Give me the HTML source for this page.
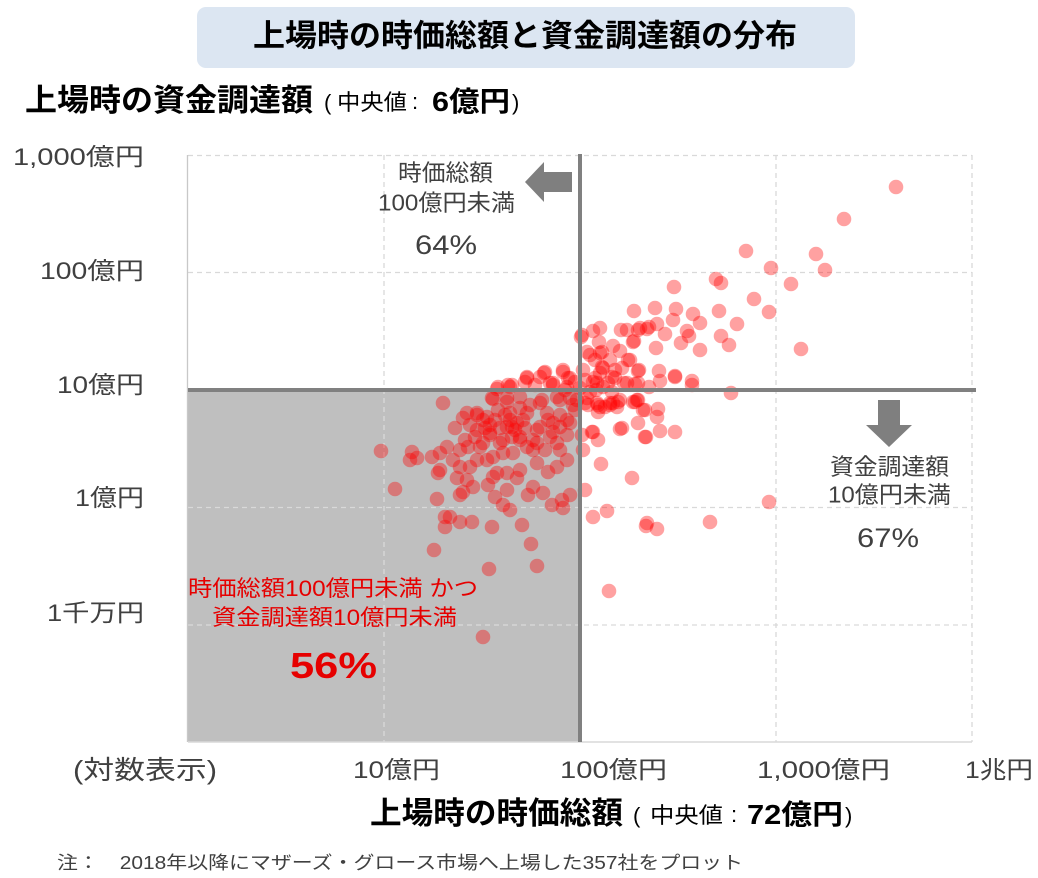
<!DOCTYPE html>
<html><head><meta charset="utf-8"><style>
html,body{margin:0;padding:0;background:#fff;}
svg{display:block;}
text{font-family:"Liberation Sans","Noto Sans CJK JP",sans-serif;}
</style></head><body>
<svg width="1038" height="878" viewBox="0 0 1038 878" xmlns="http://www.w3.org/2000/svg">
<rect x="197" y="7" width="658" height="61" rx="9" fill="#dce6f2"/>
<text x="253" y="46.5" font-size="31" font-weight="bold" fill="#000" textLength="544" lengthAdjust="spacingAndGlyphs">上場時の時価総額と資金調達額の分布</text>
<text x="25" y="111" font-size="31" font-weight="bold" fill="#000" textLength="288" lengthAdjust="spacingAndGlyphs">上場時の資金調達額</text>
<text x="324" y="110" font-size="22" fill="#000">(</text>
<text x="337" y="110" font-size="22" fill="#000" textLength="70" lengthAdjust="spacingAndGlyphs">中央値</text>
<text x="412" y="109" font-size="22" fill="#000">:</text>
<text x="432" y="111" font-size="28" font-weight="bold" fill="#000" textLength="78" lengthAdjust="spacingAndGlyphs">6億円</text>
<text x="512" y="110" font-size="22" fill="#000">)</text>
<rect x="188" y="390" width="392" height="352" fill="#bfbfbf"/>
<g stroke="#d9d9d9" stroke-width="1.3" stroke-dasharray="5,4" fill="none">
<line x1="188" y1="155.5" x2="972" y2="155.5"/>
<line x1="188" y1="272.5" x2="972" y2="272.5"/>
<line x1="188" y1="507.5" x2="972" y2="507.5"/>
<line x1="188" y1="625" x2="972" y2="625"/>
<line x1="384" y1="155" x2="384" y2="742"/>
<line x1="776" y1="155" x2="776" y2="742"/>
<line x1="972" y1="155" x2="972" y2="742"/>
</g>
<line x1="187.5" y1="155" x2="187.5" y2="742" stroke="#c8c8c8" stroke-width="1.3"/>
<line x1="188" y1="742" x2="972" y2="742" stroke="#d9d9d9" stroke-width="1.5"/>
<g fill="#ff0000" fill-opacity="0.37">
<circle cx="896" cy="187" r="7.3"/><circle cx="844" cy="219" r="7.3"/><circle cx="746" cy="251" r="7.3"/><circle cx="816" cy="254" r="7.3"/><circle cx="825" cy="270" r="7.3"/><circle cx="771" cy="268" r="7.3"/><circle cx="791" cy="284" r="7.3"/><circle cx="716" cy="279" r="7.3"/><circle cx="721" cy="283" r="7.3"/><circle cx="674" cy="287" r="7.3"/><circle cx="754" cy="299" r="7.3"/><circle cx="769" cy="312" r="7.3"/><circle cx="719" cy="311" r="7.3"/><circle cx="737" cy="324" r="7.3"/><circle cx="801" cy="349" r="7.3"/><circle cx="721" cy="336" r="7.3"/><circle cx="729" cy="345" r="7.3"/><circle cx="700" cy="350" r="7.3"/><circle cx="634" cy="311" r="7.3"/><circle cx="655" cy="308" r="7.3"/><circle cx="676" cy="309" r="7.3"/><circle cx="693" cy="314" r="7.3"/><circle cx="700" cy="323" r="7.3"/><circle cx="673" cy="320" r="7.3"/><circle cx="687" cy="331" r="7.3"/><circle cx="689" cy="336" r="7.3"/><circle cx="681" cy="343" r="7.3"/><circle cx="656" cy="348" r="7.3"/><circle cx="665" cy="334" r="7.3"/><circle cx="657" cy="324" r="7.3"/><circle cx="647" cy="329" r="7.3"/><circle cx="649" cy="327" r="7.3"/><circle cx="640" cy="328" r="7.3"/><circle cx="634" cy="341" r="7.3"/><circle cx="621" cy="330" r="7.3"/><circle cx="627" cy="330" r="7.3"/><circle cx="600" cy="328" r="7.3"/><circle cx="593" cy="331" r="7.3"/><circle cx="581" cy="337" r="7.3"/><circle cx="599" cy="342" r="7.3"/><circle cx="613" cy="346" r="7.3"/><circle cx="620" cy="351" r="7.3"/><circle cx="628" cy="360" r="7.3"/><circle cx="639" cy="370" r="7.3"/><circle cx="659" cy="371" r="7.3"/><circle cx="660" cy="381" r="7.3"/><circle cx="675" cy="377" r="7.3"/><circle cx="692" cy="381" r="7.3"/><circle cx="692" cy="385" r="7.3"/><circle cx="649" cy="387" r="7.3"/><circle cx="635" cy="384" r="7.3"/><circle cx="624" cy="383" r="7.3"/><circle cx="612" cy="377" r="7.3"/><circle cx="622" cy="368" r="7.3"/><circle cx="602" cy="367" r="7.3"/><circle cx="600" cy="353" r="7.3"/><circle cx="590" cy="355" r="7.3"/><circle cx="593" cy="382" r="7.3"/><circle cx="731" cy="393" r="7.3"/><circle cx="638" cy="400" r="7.3"/><circle cx="635" cy="402" r="7.3"/><circle cx="645" cy="410" r="7.3"/><circle cx="658" cy="409" r="7.3"/><circle cx="657" cy="417" r="7.3"/><circle cx="618" cy="402" r="7.3"/><circle cx="610" cy="405" r="7.3"/><circle cx="598" cy="405" r="7.3"/><circle cx="598" cy="412" r="7.3"/>
<circle cx="638" cy="330" r="7.3"/><circle cx="582" cy="335" r="7.3"/><circle cx="633" cy="342" r="7.3"/><circle cx="587" cy="352" r="7.3"/><circle cx="602" cy="352" r="7.3"/><circle cx="595" cy="360" r="7.3"/><circle cx="610" cy="360" r="7.3"/><circle cx="630" cy="360" r="7.3"/><circle cx="603" cy="368" r="7.3"/><circle cx="583" cy="370" r="7.3"/><circle cx="595" cy="378" r="7.3"/><circle cx="597" cy="383" r="7.3"/><circle cx="615" cy="378" r="7.3"/><circle cx="638" cy="383" r="7.3"/><circle cx="563" cy="370" r="7.3"/><circle cx="570" cy="378" r="7.3"/><circle cx="545" cy="372" r="7.3"/><circle cx="540" cy="377" r="7.3"/><circle cx="527" cy="377" r="7.3"/><circle cx="525" cy="382" r="7.3"/><circle cx="550" cy="383" r="7.3"/><circle cx="553" cy="385" r="7.3"/><circle cx="512" cy="385" r="7.3"/><circle cx="498" cy="387" r="7.3"/><circle cx="535" cy="385" r="7.3"/><circle cx="567" cy="387" r="7.3"/>
<circle cx="492" cy="398" r="7.3"/><circle cx="507" cy="398" r="7.3"/><circle cx="520" cy="397" r="7.3"/><circle cx="542" cy="400" r="7.3"/><circle cx="557" cy="397" r="7.3"/><circle cx="570" cy="398" r="7.3"/><circle cx="587" cy="398" r="7.3"/><circle cx="597" cy="403" r="7.3"/><circle cx="610" cy="403" r="7.3"/><circle cx="620" cy="400" r="7.3"/><circle cx="637" cy="400" r="7.3"/><circle cx="643" cy="410" r="7.3"/><circle cx="605" cy="407" r="7.3"/><circle cx="617" cy="407" r="7.3"/><circle cx="588" cy="405" r="7.3"/><circle cx="622" cy="428" r="7.3"/><circle cx="593" cy="432" r="7.3"/><circle cx="598" cy="440" r="7.3"/><circle cx="645" cy="437" r="7.3"/><circle cx="477" cy="413" r="7.3"/><circle cx="483" cy="420" r="7.3"/><circle cx="490" cy="433" r="7.3"/><circle cx="510" cy="413" r="7.3"/><circle cx="512" cy="427" r="7.3"/><circle cx="523" cy="420" r="7.3"/><circle cx="540" cy="403" r="7.3"/><circle cx="547" cy="413" r="7.3"/><circle cx="553" cy="423" r="7.3"/><circle cx="567" cy="420" r="7.3"/><circle cx="537" cy="430" r="7.3"/><circle cx="550" cy="437" r="7.3"/><circle cx="567" cy="435" r="7.3"/><circle cx="503" cy="440" r="7.3"/><circle cx="520" cy="437" r="7.3"/><circle cx="477" cy="430" r="7.3"/><circle cx="483" cy="443" r="7.3"/><circle cx="537" cy="443" r="7.3"/><circle cx="557" cy="443" r="7.3"/>
<circle cx="497" cy="389" r="7.3"/><circle cx="508" cy="385" r="7.3"/><circle cx="527" cy="378" r="7.3"/><circle cx="544" cy="373" r="7.3"/><circle cx="563" cy="372" r="7.3"/><circle cx="553" cy="383" r="7.3"/><circle cx="568" cy="378" r="7.3"/><circle cx="600" cy="373" r="7.3"/><circle cx="615" cy="370" r="7.3"/><circle cx="608" cy="383" r="7.3"/><circle cx="627" cy="383" r="7.3"/>
<circle cx="443" cy="403" r="7.3"/><circle cx="493" cy="399" r="7.3"/><circle cx="507" cy="402" r="7.3"/><circle cx="467" cy="413" r="7.3"/><circle cx="477" cy="415" r="7.3"/><circle cx="487" cy="417" r="7.3"/><circle cx="455" cy="428" r="7.3"/><circle cx="463" cy="418" r="7.3"/><circle cx="490" cy="435" r="7.3"/><circle cx="507" cy="427" r="7.3"/><circle cx="517" cy="423" r="7.3"/><circle cx="527" cy="413" r="7.3"/><circle cx="560" cy="400" r="7.3"/><circle cx="573" cy="405" r="7.3"/><circle cx="560" cy="427" r="7.3"/><circle cx="570" cy="423" r="7.3"/><circle cx="540" cy="427" r="7.3"/><circle cx="553" cy="432" r="7.3"/><circle cx="533" cy="440" r="7.3"/><circle cx="527" cy="447" r="7.3"/><circle cx="520" cy="440" r="7.3"/><circle cx="512" cy="437" r="7.3"/><circle cx="500" cy="443" r="7.3"/><circle cx="480" cy="447" r="7.3"/><circle cx="468" cy="447" r="7.3"/><circle cx="460" cy="450" r="7.3"/><circle cx="447" cy="447" r="7.3"/><circle cx="440" cy="453" r="7.3"/><circle cx="432" cy="457" r="7.3"/><circle cx="412" cy="452" r="7.3"/><circle cx="410" cy="460" r="7.3"/><circle cx="417" cy="458" r="7.3"/><circle cx="381" cy="451" r="7.3"/><circle cx="395" cy="489" r="7.3"/><circle cx="440" cy="470" r="7.3"/><circle cx="438" cy="473" r="7.3"/><circle cx="453" cy="460" r="7.3"/><circle cx="460" cy="467" r="7.3"/><circle cx="470" cy="467" r="7.3"/><circle cx="477" cy="460" r="7.3"/><circle cx="487" cy="460" r="7.3"/><circle cx="493" cy="457" r="7.3"/><circle cx="503" cy="453" r="7.3"/><circle cx="513" cy="453" r="7.3"/><circle cx="533" cy="450" r="7.3"/><circle cx="545" cy="450" r="7.3"/><circle cx="560" cy="450" r="7.3"/><circle cx="567" cy="460" r="7.3"/><circle cx="557" cy="467" r="7.3"/><circle cx="537" cy="463" r="7.3"/><circle cx="548" cy="472" r="7.3"/><circle cx="520" cy="470" r="7.3"/><circle cx="507" cy="473" r="7.3"/><circle cx="497" cy="473" r="7.3"/><circle cx="493" cy="477" r="7.3"/><circle cx="457" cy="478" r="7.3"/><circle cx="467" cy="480" r="7.3"/><circle cx="473" cy="487" r="7.3"/><circle cx="463" cy="492" r="7.3"/><circle cx="460" cy="495" r="7.3"/><circle cx="488" cy="485" r="7.3"/><circle cx="507" cy="490" r="7.3"/><circle cx="517" cy="478" r="7.3"/><circle cx="533" cy="487" r="7.3"/><circle cx="528" cy="495" r="7.3"/><circle cx="543" cy="493" r="7.3"/><circle cx="495" cy="497" r="7.3"/><circle cx="503" cy="505" r="7.3"/><circle cx="510" cy="510" r="7.3"/><circle cx="552" cy="505" r="7.3"/><circle cx="562" cy="500" r="7.3"/><circle cx="563" cy="508" r="7.3"/><circle cx="570" cy="495" r="7.3"/><circle cx="437" cy="499" r="7.3"/><circle cx="445" cy="517" r="7.3"/><circle cx="450" cy="517" r="7.3"/><circle cx="445" cy="527" r="7.3"/><circle cx="460" cy="522" r="7.3"/><circle cx="472" cy="522" r="7.3"/><circle cx="492" cy="527" r="7.3"/><circle cx="522" cy="525" r="7.3"/><circle cx="577" cy="400" r="7.3"/>
<circle cx="585" cy="403" r="7.3"/><circle cx="600" cy="407" r="7.3"/><circle cx="613" cy="403" r="7.3"/><circle cx="620" cy="429" r="7.3"/><circle cx="592" cy="432" r="7.3"/><circle cx="582" cy="435" r="7.3"/><circle cx="583" cy="450" r="7.3"/><circle cx="601" cy="464" r="7.3"/><circle cx="632" cy="478" r="7.3"/><circle cx="585" cy="490" r="7.3"/><circle cx="607" cy="511" r="7.3"/><circle cx="593" cy="517" r="7.3"/><circle cx="633" cy="402" r="7.3"/><circle cx="638" cy="423" r="7.3"/>
<circle cx="531" cy="544" r="7.3"/><circle cx="434" cy="550" r="7.3"/><circle cx="489" cy="569" r="7.3"/><circle cx="537" cy="566" r="7.3"/><circle cx="609" cy="591" r="7.3"/><circle cx="483" cy="637" r="7.3"/><circle cx="646" cy="526" r="7.3"/><circle cx="657" cy="529" r="7.3"/><circle cx="647" cy="523" r="7.3"/>
<circle cx="660" cy="431" r="7.3"/><circle cx="675" cy="432" r="7.3"/><circle cx="646" cy="437" r="7.3"/><circle cx="710" cy="522" r="7.3"/><circle cx="769" cy="502" r="7.3"/><circle cx="675" cy="376" r="7.3"/><circle cx="638" cy="371" r="7.3"/><circle cx="510" cy="387" r="7.3"/>
<circle cx="495" cy="420" r="7.3"/><circle cx="500" cy="428" r="7.3"/><circle cx="505" cy="415" r="7.3"/><circle cx="515" cy="430" r="7.3"/><circle cx="490" cy="425" r="7.3"/><circle cx="498" cy="410" r="7.3"/><circle cx="525" cy="428" r="7.3"/><circle cx="510" cy="420" r="7.3"/><circle cx="485" cy="428" r="7.3"/><circle cx="530" cy="405" r="7.3"/><circle cx="520" cy="408" r="7.3"/><circle cx="548" cy="420" r="7.3"/><circle cx="560" cy="415" r="7.3"/><circle cx="575" cy="410" r="7.3"/><circle cx="565" cy="390" r="7.3"/><circle cx="580" cy="388" r="7.3"/><circle cx="590" cy="392" r="7.3"/><circle cx="575" cy="382" r="7.3"/><circle cx="585" cy="380" r="7.3"/><circle cx="596" cy="390" r="7.3"/><circle cx="603" cy="387" r="7.3"/><circle cx="612" cy="392" r="7.3"/><circle cx="470" cy="425" r="7.3"/><circle cx="465" cy="440" r="7.3"/><circle cx="475" cy="437" r="7.3"/>
</g>
<line x1="188" y1="390" x2="976" y2="390" stroke="#808080" stroke-width="4"/>
<line x1="580" y1="154" x2="580" y2="742" stroke="#808080" stroke-width="4"/>
<polygon points="525,182 544,162 544,172 572,172 572,192 544,192 544,202" fill="#7f7f7f"/>
<polygon points="878,400 900,400 900,425 912,425 889,447 866,425 878,425" fill="#7f7f7f"/>
<g fill="#404040" font-size="23">
<text x="398" y="180.5" textLength="95" lengthAdjust="spacingAndGlyphs">時価総額</text>
<text x="378" y="210.5" textLength="137" lengthAdjust="spacingAndGlyphs">100億円未満</text>
<text x="415" y="254" font-size="27" textLength="62" lengthAdjust="spacingAndGlyphs">64%</text>
<text x="830" y="474.5" textLength="119" lengthAdjust="spacingAndGlyphs">資金調達額</text>
<text x="828" y="502.5" textLength="123" lengthAdjust="spacingAndGlyphs">10億円未満</text>
<text x="857" y="547" font-size="27" textLength="62" lengthAdjust="spacingAndGlyphs">67%</text>
</g>
<g fill="#e60000" font-size="22">
<text x="188" y="596" textLength="290" lengthAdjust="spacingAndGlyphs">時価総額100億円未満 かつ</text>
<text x="212" y="625" textLength="245" lengthAdjust="spacingAndGlyphs">資金調達額10億円未満</text>
<text x="290" y="678" font-size="36" font-weight="bold" textLength="87" lengthAdjust="spacingAndGlyphs">56%</text>
</g>
<g fill="#404040" font-size="24" text-anchor="end">
<text x="144" y="165" textLength="131" lengthAdjust="spacingAndGlyphs">1,000億円</text>
<text x="144" y="279" textLength="104" lengthAdjust="spacingAndGlyphs">100億円</text>
<text x="144" y="393" textLength="87" lengthAdjust="spacingAndGlyphs">10億円</text>
<text x="144" y="506" textLength="69" lengthAdjust="spacingAndGlyphs">1億円</text>
<text x="144" y="621" textLength="97" lengthAdjust="spacingAndGlyphs">1千万円</text>
</g>
<g fill="#404040" font-size="24">
<text x="73" y="779" font-size="26" textLength="144" lengthAdjust="spacingAndGlyphs">(対数表示)</text>
<text x="353" y="778" textLength="87" lengthAdjust="spacingAndGlyphs">10億円</text>
<text x="560" y="778" textLength="107" lengthAdjust="spacingAndGlyphs">100億円</text>
<text x="757" y="778" textLength="133" lengthAdjust="spacingAndGlyphs">1,000億円</text>
<text x="965" y="778" textLength="68" lengthAdjust="spacingAndGlyphs">1兆円</text>
</g>
<text x="370" y="824" font-size="31" font-weight="bold" fill="#000" textLength="253" lengthAdjust="spacingAndGlyphs">上場時の時価総額</text>
<text x="633" y="823" font-size="22" fill="#000">(</text>
<text x="650" y="823" font-size="22" fill="#000" textLength="73" lengthAdjust="spacingAndGlyphs">中央値</text>
<text x="731" y="822" font-size="22" fill="#000">:</text>
<text x="747" y="824" font-size="28" font-weight="bold" fill="#000" textLength="96" lengthAdjust="spacingAndGlyphs">72億円</text>
<text x="845" y="823" font-size="22" fill="#000">)</text>
<text x="57" y="869" font-size="18" fill="#404040" textLength="686" lengthAdjust="spacingAndGlyphs">注：　2018年以降にマザーズ・グロース市場へ上場した357社をプロット</text>
</svg>
</body></html>
